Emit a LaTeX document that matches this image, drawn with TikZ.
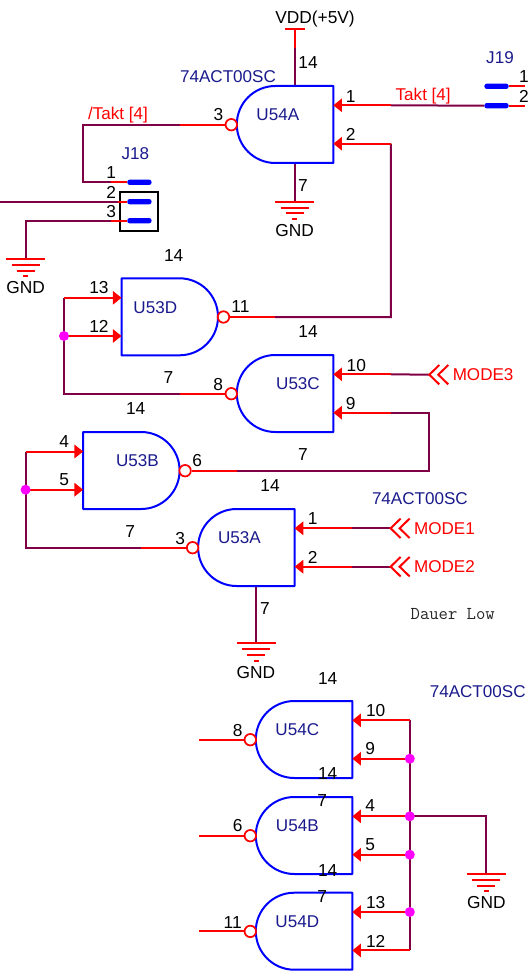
\documentclass[tikz,border=0pt]{standalone}
\usepackage{fontspec}
\setmainfont{Liberation Sans}
\usepackage{tikz}
\pgfdeclarelayer{background}
\pgfsetlayers{background,main}
\usetikzlibrary{arrows.meta}
\definecolor{netcol}{HTML}{800045}
\definecolor{partcol}{HTML}{1A1A8C}
\definecolor{dotcol}{HTML}{FF00FF}
\definecolor{pincol}{HTML}{FF0000}
\definecolor{gatecol}{HTML}{0000FF}
\tikzset{
  gate/.style={draw=gatecol,line width=1.5pt,line join=round},
  pin/.style={draw=pincol,line width=1.5pt},
  net/.style={draw=netcol,line width=1.5pt},
  arrowpin/.style={pin,-{Triangle[length=6.5pt,width=10pt]}},
  bubble/.style={circle,draw=pincol,fill=white,line width=1.3pt,minimum size=8.6pt,inner sep=0},
  jbar/.style={fill=gatecol,rounded corners=1.8pt,minimum width=18.2pt,minimum height=4pt,inner sep=0},
  dot/.style={circle,fill=dotcol,minimum size=7.5pt,inner sep=0},
  numtext/.style={font=\fontsize{13}{14}\selectfont,text=black,inner sep=0},
  parttext/.style={font=\fontsize{12.8}{14}\selectfont,text=partcol,inner sep=0},
  sigtext/.style={font=\fontsize{12.8}{14}\selectfont,text=pincol,inner sep=0},
}
\newcommand{\Num}[3]% pos, name, text
{\node[numtext] (#2) at (#1) {#3};}
\newcommand{\Part}[3]%
{\node[parttext] (#2) at (#1) {#3};}
\newcommand{\Sig}[3]%
{\node[sigtext] (#2) at (#1) {#3};}
\newcommand{\Net}[1]%
{ \begin{pgfonlayer}{background}
    \draw[net] #1;
  \end{pgfonlayer}
}
\newcommand{\Arrow}[2]%
{\draw[arrowpin] (#1) -- (#2);}
\newcommand{\Dot}[2]%
{\node[dot] (#2) at (#1) {};}
% flat side right, inputs from the right
\newcommand{\NandL}[4]% right x, top y, name, label x
{\begin{scope}[shift={(#1,#2)}]
    \draw[gate] (0,0) -- (-58,0) arc[start angle=270,end angle=90,radius=38.5] -- (0,77) -- cycle;
    \node[parttext] (#3) at (#4,29) {#3};
    \node[bubble] (#3-b) at (-102,38.7) {};
    \coordinate (#3-top) at (0,0);
    \coordinate (#3-bot) at (0,77);
    \coordinate (#3-i1) at (0,19.3);
    \coordinate (#3-i2) at (0,57.7);
    \coordinate (#3-a1) at (57.5,19.3);
    \coordinate (#3-a2) at (57.5,57.7);
    \coordinate (#3-s) at (-153.5,38.7);
    \Arrow{#3-a1}{#3-i1}
    \Arrow{#3-a2}{#3-i2}
    \draw[pin] (#3-b.west) -- (#3-s);
  \end{scope}
}
% flat side left, inputs from the left
\newcommand{\NandR}[4]%
{\begin{scope}[shift={(#1,#2)}]
    \draw[gate] (0,0) -- (58,0) arc[start angle=-90,end angle=90,radius=38.5] -- (0,77) -- cycle;
    \node[parttext] (#3) at (#4,29) {#3};
    \node[bubble] (#3-b) at (102,38.7) {};
    \coordinate (#3-i1) at (0,19.5);
    \coordinate (#3-i2) at (0,57.7);
    \coordinate (#3-a1) at (-57.5,19.5);
    \coordinate (#3-a2) at (-57.5,57.7);
    \coordinate (#3-s) at (153.5,38.7);
    \Arrow{#3-a1}{#3-i1}
    \Arrow{#3-a2}{#3-i2}
    \draw[pin] (#3-b.east) -- (#3-s);
  \end{scope}
}
\newcommand{\Gnd}[2]% pos, name
{\coordinate (#2) at (#1);
  \begin{scope}[shift={(#1)}]
    \draw[pin] (-19.5,0) -- (19.5,0);
    \draw[pin] (-14,6) -- (14,6);
    \draw[pin] (-9,11.7) -- (9,11.7);
    \draw[pin] (-2.5,17.3) -- (2.5,17.3);
    \node[numtext] (#2-t) at (0,29) {GND};
  \end{scope}
}
\newcommand{\Port}[3]% pos, name, text
{\coordinate (#2) at (#1);
  \begin{scope}[shift={(#1)}]
    \draw[pin] (10,-9.7) -- (0,0) -- (10,9.7);
    \draw[pin] (19,-9.7) -- (9,0) -- (19,9.7);
    \node[sigtext,anchor=west] (#2-t) at (23.2,0) {#3};
  \end{scope}
}

\begin{document}
\begin{tikzpicture}[x=0.75pt,y=-0.75pt]
  \useasboundingbox (0,0) rectangle (528,977);
  \NandL{333.3}{86}{U54A}{-55.5}
  \NandL{333.3}{355}{U53C}{-35.3}
  \NandL{294.6}{509}{U53A}{-55.2}
  \NandL{352.3}{701}{U54C}{-55}
  \NandL{352.3}{797}{U54B}{-55}
  \NandL{352.3}{892.7}{U54D}{-55}
  \NandR{121.5}{278.3}{U53D}{33.8}
  \NandR{83.1}{432}{U53B}{54.3}
  % supply of U54A
  \coordinate (vdd) at (294.6,29);
  \coordinate (vdd-s) at (294.6,48);
  \draw[pin] (285,29) -- (305,29);
  \draw[pin] (vdd) -- (vdd-s);
  \Net{(vdd-s) -- (vdd-s |- U54A-top)}
  \Num{315, 19}{vdd-t}{VDD(+5V)}
  \Gnd{294.6, 201.7}{gnd1}
  \Net{(gnd1) -- (gnd1 |- U54A-bot)}
  % J19
  \node[jbar] (J19-1) at (496.5,86.3) {};
  \node[jbar] (J19-2) at (496.5,105.7) {};
  \coordinate (J19-e1) at (525,86.3);
  \coordinate (J19-e2) at (525,105.7);
  \draw[pin] (J19-1.east) -- (J19-e1);
  \draw[pin] (J19-2.east) -- (J19-e2);
  \Net{(J19-2.west) -- (U54A-a1)}
  \Part{500, 58}{J19}{J19}
  \Num{524, 77}{J19-n1}{1}
  \Num{524, 96}{J19-n2}{2}
  % J18
  \node[draw=black,line width=1.5pt,minimum width=29pt,minimum height=29pt,inner sep=0] (J18-box) at (138.9,211.3) {};
  \node[jbar] (J18-1) at (139.4,182.3) {};
  \node[jbar] (J18-2) at (139.4,201.7) {};
  \node[jbar] (J18-3) at (139.4,220.7) {};
  \coordinate (J18-e1) at (111,182.3);
  \coordinate (J18-e2) at (118,201.7);
  \coordinate (J18-e3) at (111,220.7);
  \draw[pin] (J18-1.west) -- (J18-e1);
  \draw[pin] (J18-2.west) -- (J18-e2);
  \draw[pin] (J18-3.west) -- (J18-e3);
  \coordinate (J18-left) at (0,201.7);
  \coordinate (takt-low) at (83.1,182.3);
  \Net{(U54A-s) -| (takt-low) -- (J18-e1)}
  \Net{(J18-left) -- (J18-e2)}
  \Gnd{25.6, 259}{gnd2}
  \Net{(J18-e3) -| (gnd2)}
  \Part{135.4, 154}{J18}{J18}
  \Num{111.1, 173}{J18-n1}{1}
  \Num{111.1, 192}{J18-n2}{2}
  \Num{111.1, 211.3}{J18-n3}{3}
  % nets between the gates
  \coordinate (n11-up) at (390.8,317);
  \Net{(U53D-s) -- (n11-up) -- (U54A-a2)}
  \Net{(U53D-a1) -- (U53D-a2) |- (U53C-s)}
  \Dot{U53D-a2}{dot1}
  \coordinate (n6-up) at (429.3,470.7);
  \Net{(U53B-s) -- (n6-up) |- (U53C-a2)}
  \Net{(U53B-a1) -- (U53B-a2) |- (U53A-s)}
  \Dot{U53B-a2}{dot2}
  \Port{429.3, 374.7}{mode3}{MODE3}
  \Net{(U53C-a1) -- (mode3)}
  \Port{390.6, 528.3}{mode1}{MODE1}
  \Net{(U53A-a1) -- (mode1)}
  \Port{390.6, 566.7}{mode2}{MODE2}
  \Net{(U53A-a2) -- (mode2)}
  \Gnd{256, 643.3}{gnd3}
  \Net{(gnd3) -- (gnd3 |- U53A-bot)}
  % tied inputs of the spare gates
  \Net{(U54C-a1) -- (U54D-a2)}
  \Dot{U54C-a2}{dot3}
  \Dot{U54B-a1}{dot4}
  \Dot{U54B-a2}{dot5}
  \Dot{U54D-a1}{dot6}
  \Gnd{486.3, 874}{gnd4}
  \Net{(U54B-a1) -| (gnd4)}
  % texts
  \Part{228, 77}{type1}{74ACT00SC}
  \Part{419.9, 499}{type2}{74ACT00SC}
  \Part{477.7, 692}{type3}{74ACT00SC}
  \Sig{423.2, 96}{takt}{Takt [4]}
  \Sig{117.9, 115}{ntakt}{/Takt [4]}
  \node[font=\ttfamily\fontsize{13.6}{15}\selectfont,text=black!85,inner sep=0] (dauer) at (452.7,614.3) {Dauer Low};
  \Num{308, 63}{t1}{14}
  \Num{303, 186}{t2}{7}
  \Num{350.8, 96.3}{t3}{1}
  \Num{350.8, 134}{t4}{2}
  \Num{218.5, 115}{t5}{3}
  \Num{173.7, 256}{t6}{14}
  \Num{99, 288}{t7}{13}
  \Num{99, 326}{t8}{12}
  \Num{240.4, 307}{t9}{11}
  \Num{308, 332}{t10}{14}
  \Num{168.4, 378}{t11}{7}
  \Num{218.2, 384.3}{t12}{8}
  \Num{356.3, 365.3}{t13}{10}
  \Num{350.8, 403.3}{t14}{9}
  \Num{135.7, 409}{t15}{14}
  \Num{64.3, 442}{t16}{4}
  \Num{64.3, 480}{t17}{5}
  \Num{197.3, 461}{t18}{6}
  \Num{303, 455}{t19}{7}
  \Num{270, 486}{t20}{14}
  \Num{130.3, 532}{t21}{7}
  \Num{180.1, 538.3}{t22}{3}
  \Num{312.8, 518.3}{t23}{1}
  \Num{312.8, 557.3}{t24}{2}
  \Num{265, 609}{t25}{7}
  \Num{327.7, 678.3}{t26}{14}
  \Num{375.7, 710.3}{t27}{10}
  \Num{370.3, 749}{t28}{9}
  \Num{237.7, 730.3}{t29}{8}
  \Num{327.7, 774}{t30}{14}
  \Num{322.3, 800.7}{t31}{7}
  \Num{370.3, 806}{t32}{4}
  \Num{370.3, 845}{t33}{5}
  \Num{237.7, 826}{t34}{6}
  \Num{327.7, 870.3}{t35}{14}
  \Num{322.3, 897}{t36}{7}
  \Num{375.7, 903}{t37}{13}
  \Num{375.7, 941}{t38}{12}
  \Num{232.7, 922.3}{t39}{11}
\end{tikzpicture}
\end{document}
